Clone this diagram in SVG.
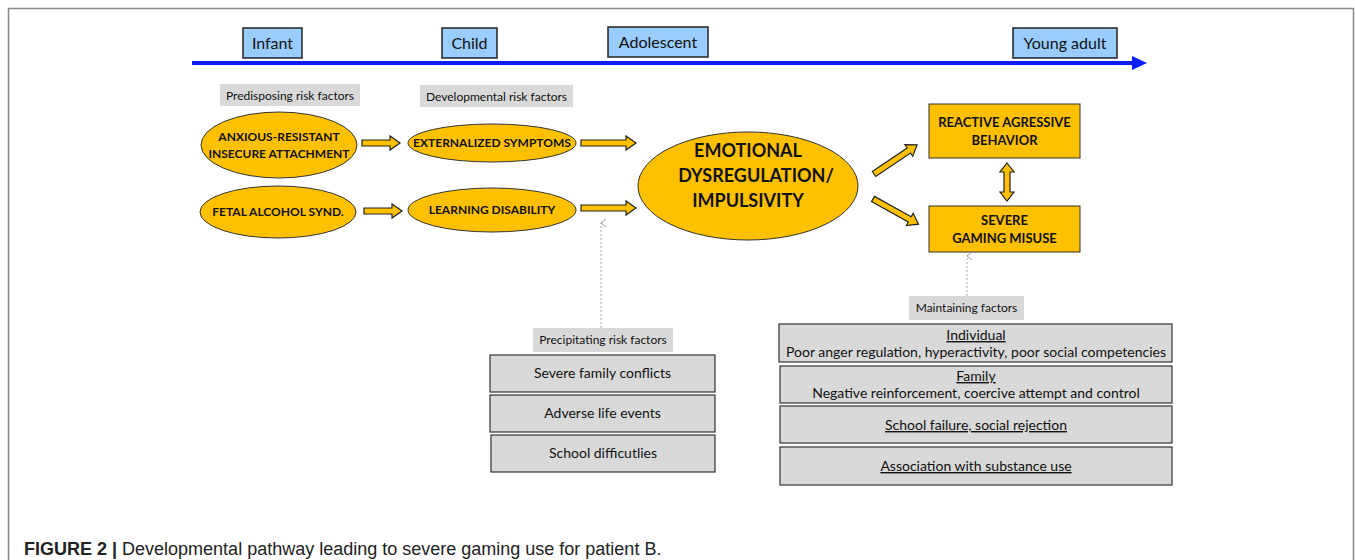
<svg xmlns="http://www.w3.org/2000/svg" width="1355" height="560" viewBox="0 0 1355 560">
<defs>
<style>
.t{font-family:Lato,"Liberation Sans",sans-serif;fill:#111}
.age{fill:#99ccff;stroke:#222;stroke-width:1.5}
.lbl{fill:#d9d9d9}
.yel{fill:#ffc000;stroke:#333;stroke-width:1}
.blk{fill:#ffc000;stroke:#222;stroke-width:1.2}
.gbox{fill:#d9d9d9;stroke:#333;stroke-width:1.2}
.b{font-weight:bold}
.dot{stroke:#aaa;stroke-width:1;stroke-dasharray:2 2;fill:none}
</style>
<marker id="open" markerWidth="10" markerHeight="10" refX="5" refY="1" orient="auto" markerUnits="userSpaceOnUse"><path d="M1,6 L5,1 L9,6" fill="none" stroke="#999" stroke-width="1"/></marker>
</defs>
<rect width="1355" height="560" fill="#fff"/>
<path d="M8.5,560 V8.5 H1353.5 V560" fill="none" stroke="#888" stroke-width="1.5"/>

<g id="timeline">
<line x1="192" y1="63" x2="1134" y2="63" stroke="#0a1eff" stroke-width="4"/>
<polygon points="1132,56 1147,63 1132,70" fill="#0a1eff"/>
</g>
<g id="infant"><rect class="age" x="243" y="28" width="59" height="30"/><text class="t" x="272.5" y="49" font-size="16" text-anchor="middle">Infant</text></g>
<g id="child"><rect class="age" x="442" y="28" width="55" height="30"/><text class="t" x="469.5" y="49" font-size="16" text-anchor="middle">Child</text></g>
<g id="adolescent"><rect class="age" x="608" y="27" width="100" height="30"/><text class="t" x="658" y="48" font-size="16" text-anchor="middle">Adolescent</text></g>
<g id="youngadult"><rect class="age" x="1013" y="28" width="104" height="30"/><text class="t" x="1065" y="49" font-size="16" text-anchor="middle">Young adult</text></g>

<g id="predisposing"><rect class="lbl" x="220" y="84" width="140" height="22"/><text class="t" x="290" y="100" font-size="12" text-anchor="middle">Predisposing risk factors</text></g>
<g id="developmental"><rect class="lbl" x="420" y="85" width="153" height="22"/><text class="t" x="496.5" y="101" font-size="12" text-anchor="middle">Developmental risk factors</text></g>

<g id="anxious"><ellipse class="yel" cx="279" cy="145" rx="78" ry="33"/><text class="t b" x="279" y="141" font-size="12" text-anchor="middle">ANXIOUS-RESISTANT</text><text class="t b" x="279" y="158" font-size="12" text-anchor="middle">INSECURE ATTACHMENT</text></g>
<g id="fetal"><ellipse class="yel" cx="278" cy="212" rx="78" ry="26"/><text class="t b" x="278" y="216" font-size="12" text-anchor="middle">FETAL ALCOHOL SYND.</text></g>
<g id="externalized"><ellipse class="yel" cx="492" cy="143" rx="84" ry="19"/><text class="t b" x="492" y="147" font-size="12" text-anchor="middle">EXTERNALIZED SYMPTOMS</text></g>
<g id="learning"><ellipse class="yel" cx="492" cy="210" rx="84" ry="22"/><text class="t b" x="492" y="214" font-size="12" text-anchor="middle">LEARNING DISABILITY</text></g>
<g id="emotional"><ellipse class="yel" cx="748" cy="186" rx="110" ry="54"/>
<text class="t b" x="748" y="157" font-size="18" text-anchor="middle">EMOTIONAL</text>
<text class="t b" x="756" y="182" font-size="18" text-anchor="middle">DYSREGULATION/</text>
<text class="t b" x="748" y="207" font-size="18" text-anchor="middle">IMPULSIVITY</text></g>
<g id="reactive"><rect class="yel" x="929" y="104" width="151" height="54"/><text class="t b" x="1004.5" y="127" font-size="13" text-anchor="middle">REACTIVE AGRESSIVE</text><text class="t b" x="1004.5" y="145" font-size="13" text-anchor="middle">BEHAVIOR</text></g>
<g id="severe"><rect class="yel" x="929" y="206" width="151" height="46"/><text class="t b" x="1004.5" y="225" font-size="13" text-anchor="middle">SEVERE</text><text class="t b" x="1004.5" y="243" font-size="13" text-anchor="middle">GAMING MISUSE</text></g>

<g id="precip-label"><rect class="lbl" x="533" y="328" width="140" height="24"/><text class="t" x="603" y="344" font-size="12" text-anchor="middle">Precipitating risk factors</text></g>
<g id="precip1"><rect class="gbox" x="490" y="355" width="225" height="37"/><text class="t" x="602.5" y="378" font-size="14" text-anchor="middle">Severe family conflicts</text></g>
<g id="precip2"><rect class="gbox" x="490" y="395" width="225" height="37"/><text class="t" x="602.5" y="418" font-size="14" text-anchor="middle">Adverse life events</text></g>
<g id="precip3"><rect class="gbox" x="491" y="435" width="224" height="37"/><text class="t" x="603" y="458" font-size="14" text-anchor="middle">School difficutlies</text></g>

<g id="maint-label"><rect class="lbl" x="909" y="296" width="115" height="24"/><text class="t" x="966.5" y="312" font-size="12" text-anchor="middle">Maintaining factors</text></g>
<g id="maint1"><rect class="gbox" x="779" y="324" width="393" height="38"/><text class="t" x="976" y="340" font-size="14" text-anchor="middle" text-decoration="underline">Individual</text><text class="t" x="976" y="357" font-size="14" text-anchor="middle">Poor anger regulation, hyperactivity, poor social competencies</text></g>
<g id="maint2"><rect class="gbox" x="780" y="366" width="392" height="37"/><text class="t" x="976" y="381" font-size="14" text-anchor="middle" text-decoration="underline">Family</text><text class="t" x="976" y="398" font-size="14" text-anchor="middle">Negative reinforcement, coercive attempt and control</text></g>
<g id="maint3"><rect class="gbox" x="780" y="406" width="392" height="37"/><text class="t" x="976" y="430" font-size="14" text-anchor="middle" text-decoration="underline">School failure, social rejection</text></g>
<g id="maint4"><rect class="gbox" x="780" y="447" width="392" height="38"/><text class="t" x="976" y="471" font-size="14" text-anchor="middle" text-decoration="underline">Association with substance use</text></g>

<g id="connectors">
<polygon class="blk" points="362,140 390,140 390,136 400,143 390,150 390,146 362,146"/>
<polygon class="blk" points="364,208 392,208 392,204 402,211 392,218 392,214 364,214"/>
<polygon class="blk" points="581,140 626,140 626,136 636,143 626,150 626,146 581,146"/>
<polygon class="blk" points="581,205 626,205 626,201 636,208 626,215 626,211 581,211"/>
<g transform="translate(874,174) rotate(-34)"><polygon class="blk" points="0,-3 42,-3 42,-7 52,0 42,7 42,3 0,3"/></g>
<g transform="translate(873,199) rotate(29)"><polygon class="blk" points="0,-3 42,-3 42,-7 52,0 42,7 42,3 0,3"/></g>
<polygon class="blk" points="1007,163 1014,172 1010,172 1010,192 1014,192 1007,201 1000,192 1004,192 1004,172 1000,172"/>
<line class="dot" x1="601" y1="328" x2="601" y2="223" marker-end="url(#open)"/>
<line class="dot" x1="967" y1="296" x2="967" y2="256" marker-end="url(#open)"/>
</g>

<text x="24" y="555" font-family="'Liberation Sans',Arial,sans-serif" font-size="18" fill="#222"><tspan font-weight="bold">FIGURE 2 |</tspan> Developmental pathway leading to severe gaming use for patient B.</text>
</svg>
